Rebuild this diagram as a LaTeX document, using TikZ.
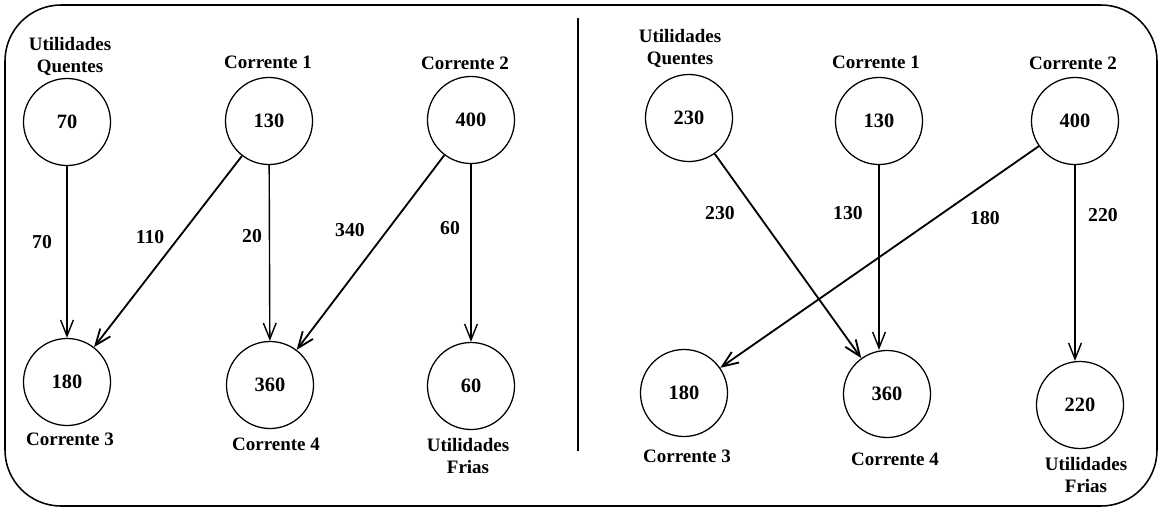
\documentclass[tikz,border=0pt]{standalone}
\usepackage{fontspec}
\setmainfont{Liberation Serif}
\usetikzlibrary{arrows.meta, positioning}

\begin{document}
\begin{tikzpicture}[x=0.025cm, y=-0.025cm,
  corr/.style={draw, circle, line width=0.9pt, minimum size=2.175cm, inner sep=0pt,
    font=\fontsize{14.5}{17}\selectfont\bfseries},
  rot/.style={align=center, inner sep=0pt, font=\fontsize{13.5}{15.6}\selectfont\bfseries},
  val/.style={inner sep=0pt, font=\fontsize{14}{16}\selectfont\bfseries},
  seta/.style={-{Straight Barb[length=0.4cm, width=0.32cm]}, line width=1pt}]
\useasboundingbox (0,0) rectangle (1160,508);
% Moldura e divisoria
\draw[line width=1.1pt, rounded corners=1.4cm] (5,5) rectangle (1157,506);
\draw[line width=1pt] (578,18) -- (578,451);

% Lado esquerdo
\node[corr] (qA) at (67,122) {70};
\node[corr] (c1A) at (269,121) {130};
\node[corr] (c2A) at (471,120) {400};
\node[corr] (c3A) at (67,382) {180};
\node[corr] (c4A) at (270,385) {360};
\node[corr] (fA) at (471,386) {60};
\node[rot] (tqA) at (70,56) {Utilidades\\Quentes};
\node[rot] (t1A) at (268,62) {Corrente 1};
\node[rot] (t2A) at (465,63) {Corrente 2};
\node[rot] (t3A) at (70,439) {Corrente 3};
\node[rot] (t4A) at (276,444) {Corrente 4};
\node[rot] (tfA) at (468,456) {Utilidades\\Frias};
\draw[seta] (qA) -- (c3A);
\draw[seta, line width=1.3pt] (c1A) -- (c3A);
\draw[seta] (c1A) -- (c4A);
\draw[seta, line width=1.3pt] (c2A) -- (c4A);
\draw[seta] (c2A) -- (fA);
\node[val] (vA1) at (42,242) {70};
\node[val] (vA2) at (150,237) {110};
\node[val] (vA3) at (252,236) {20};
\node[val] (vA4) at (350,230) {340};
\node[val] (vA5) at (450,228) {60};

% Lado direito
\node[corr] (qB) at (689,118) {230};
\node[corr] (c1B) at (879,121) {130};
\node[corr] (c2B) at (1075,121) {400};
\node[corr] (c3B) at (684,393) {180};
\node[corr] (c4B) at (887,394) {360};
\node[corr] (fB) at (1080,405) {220};
\node[rot] (tqB) at (680,48) {Utilidades\\Quentes};
\node[rot] (t1B) at (876,62) {Corrente 1};
\node[rot] (t2B) at (1073,63) {Corrente 2};
\node[rot] (t3B) at (687,456) {Corrente 3};
\node[rot] (t4B) at (895,459) {Corrente 4};
\node[rot] (tfB) at (1086,475) {Utilidades\\Frias};
\draw[seta, line width=1.3pt] (qB) -- (c4B);
\draw[seta] (c1B.south) -- (c1B.south |- c4B.north);
\draw[seta, line width=1.3pt] (c2B) -- (c3B);
\draw[seta] (c2B.south) -- (c2B.south |- fB.north);
\node[val] (vB1) at (720,213) {230};
\node[val] (vB2) at (848,213) {130};
\node[val] (vB3) at (985,218) {180};
\node[val] (vB4) at (1103,215) {220};
\end{tikzpicture}
\end{document}
